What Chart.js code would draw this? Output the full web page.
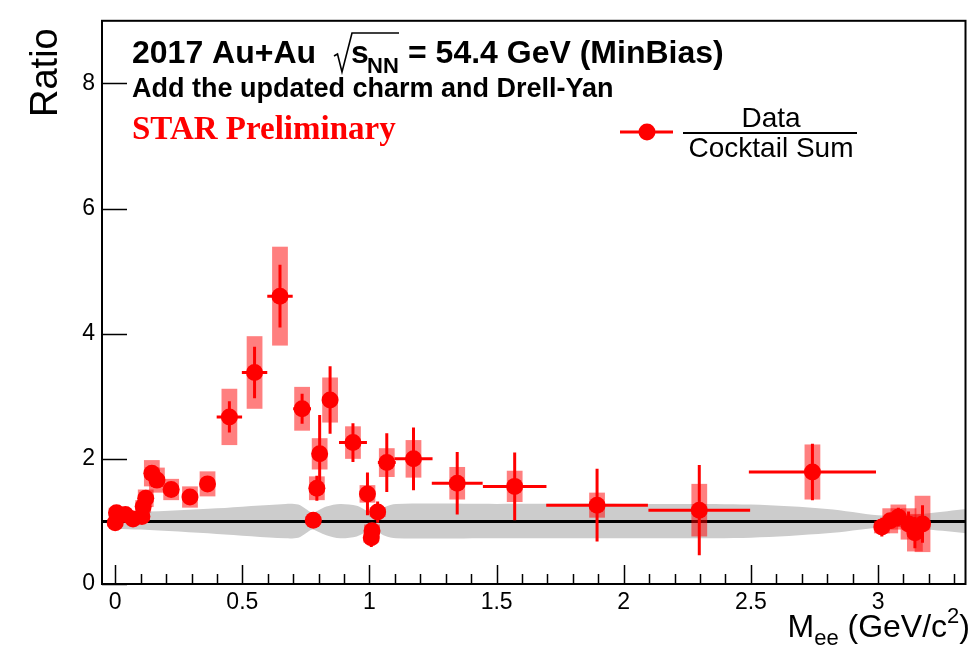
<!DOCTYPE html>
<html>
<head>
<meta charset="utf-8">
<title>Data / Cocktail ratio</title>
<script src="https://cdn.jsdelivr.net/npm/chart.js@4.4.0/dist/chart.umd.min.js"></script>
<style>
  html, body { margin: 0; padding: 0; background: #fff; }
  #wrap { width: 974px; height: 646px; }
</style>
</head>
<body>
<div id="wrap"><canvas id="ratioChart" width="974" height="646"></canvas></div>
<script>
// Dielectron mass (GeV/c^2) and Data / Cocktail ratio
const massValues    = [0.0, 0.005, 0.04, 0.07, 0.105, 0.11, 0.12, 0.144, 0.164, 0.22, 0.294, 0.363,
                       0.449, 0.548, 0.648, 0.735, 0.779, 0.793, 0.804, 0.845, 0.935, 0.992, 1.01, 1.007,
                       1.032, 1.068, 1.173, 1.345, 1.571, 1.895, 2.297, 2.742, 3.015, 3.048, 3.08, 3.12,
                       3.145, 3.175];
const ratioValues   = [0.98, 1.14, 1.11, 1.04, 1.08, 1.24, 1.37, 1.77, 1.66, 1.51, 1.39, 1.60,
                       2.67, 3.38, 4.60, 2.80, 1.02, 1.53, 2.08, 2.94, 2.26, 1.44, 0.85, 0.74,
                       1.15, 1.94, 2.00, 1.61, 1.56, 1.26, 1.18, 1.79, 0.91, 1.01, 1.07, 0.96,
                       0.82, 0.96];
const massHalfWidth = [0.005, 0.005, 0.01, 0.01, 0.005, 0.005, 0.01, 0.012, 0.012, 0.03, 0.025, 0.025,
                       0.05, 0.05, 0.05, 0.035, 0.01, 0.01, 0.01, 0.02, 0.055, 0.005, 0.005, 0.005,
                       0.005, 0.035, 0.075, 0.1, 0.125, 0.2, 0.2, 0.25, 0.01, 0.01, 0.01, 0.01,
                       0.01, 0.01];
const statErrors    = [0.03, 0.03, 0.03, 0.04, 0.04, 0.05, 0.06, 0.08, 0.08, 0.08, 0.08, 0.09,
                       0.25, 0.41, 0.50, 0.24, 0.04, 0.20, 0.62, 0.54, 0.31, 0.34, 0.08, 0.15,
                       0.17, 0.47, 0.50, 0.50, 0.54, 0.58, 0.72, 0.45, 0.15, 0.12, 0.15, 0.20,
                       0.25, 0.30];
const sysErrors     = [0.06, 0.08, 0.07, 0.07, 0.08, 0.10, 0.14, 0.21, 0.20, 0.17, 0.17, 0.20,
                       0.45, 0.58, 0.79, 0.35, 0.06, 0.19, 0.25, 0.36, 0.26, 0.14, 0.10, 0.08,
                       0.08, 0.23, 0.30, 0.26, 0.25, 0.20, 0.42, 0.44, 0.10, 0.20, 0.20, 0.25,
                       0.30, 0.45];

// cocktail uncertainty band around unity
const bandMass  = [0, 0.1, 0.4, 0.67, 0.72, 0.75, 0.775, 0.8, 0.83, 0.885, 0.95, 0.985, 1.005, 1.03, 1.06, 1.105,
                   1.5, 2.0, 2.5, 2.8, 3.0, 3.1, 3.2, 3.35];
const bandUpper = [1.13, 1.15, 1.21, 1.28, 1.27, 1.2, 1.14, 1.18, 1.24, 1.28, 1.25, 1.18, 1.13, 1.16, 1.23, 1.28,
                   1.28, 1.28, 1.27, 1.2, 1.1, 1.09, 1.13, 1.2];
const bandLower = [0.88, 0.87, 0.8, 0.73, 0.74, 0.81, 0.87, 0.83, 0.78, 0.73, 0.76, 0.83, 0.87, 0.84, 0.77, 0.73,
                   0.73, 0.73, 0.74, 0.81, 0.9, 0.91, 0.87, 0.81];

// axes
const xRange = [-0.052, 3.344];
const yRange = [0, 9];
const xTickValues = [0, 0.5, 1, 1.5, 2, 2.5, 3];
const xTickLabels = ["0", "0.5", "1", "1.5", "2", "2.5", "3"];
const yTickValues = [0, 2, 4, 6, 8];
const yTickLabels = ["0", "2", "4", "6", "8"];

const SANS = '"Liberation Sans", Arial, Helvetica, sans-serif';
const SERIF = '"Liberation Serif", "Times New Roman", serif';
const RED = "#ff0000";
const sysHalfWidth = 0.031;

// ROOT-like decorations: sys boxes, error bars, frame, inner ticks, texts
const rootStyle = {
    id: "rootStyle",
    afterDatasetDraw(chart, args) {
        if (args.index !== 1) return; // right after the unity line, below the markers
        const ctx = chart.ctx;
        const xs = chart.scales.x, ys = chart.scales.y;
        const area = chart.chartArea;
        ctx.save();
        ctx.beginPath();
        ctx.rect(area.left, area.top, area.right - area.left, area.bottom - area.top);
        ctx.clip();
        // systematic boxes
        ctx.fillStyle = "rgba(255, 0, 0, 0.5)";
        massValues.forEach((m, i) => {
            const x0 = xs.getPixelForValue(m - sysHalfWidth);
            const x1 = xs.getPixelForValue(m + sysHalfWidth);
            const y0 = ys.getPixelForValue(ratioValues[i] + sysErrors[i]);
            const y1 = ys.getPixelForValue(ratioValues[i] - sysErrors[i]);
            ctx.fillRect(x0, y0, x1 - x0, y1 - y0);
        });
        // statistical error bars + bin widths
        ctx.strokeStyle = RED;
        ctx.lineWidth = 3;
        massValues.forEach((m, i) => {
            const xc = xs.getPixelForValue(m);
            const yc = ys.getPixelForValue(ratioValues[i]);
            ctx.beginPath();
            ctx.moveTo(xc, ys.getPixelForValue(ratioValues[i] + statErrors[i]));
            ctx.lineTo(xc, ys.getPixelForValue(ratioValues[i] - statErrors[i]));
            ctx.moveTo(xs.getPixelForValue(m - massHalfWidth[i]), yc);
            ctx.lineTo(xs.getPixelForValue(m + massHalfWidth[i]), yc);
            ctx.stroke();
        });
        ctx.restore();
    },
    afterDraw(chart) {
        const ctx = chart.ctx;
        const xs = chart.scales.x, ys = chart.scales.y;
        const a = chart.chartArea;
        ctx.save();
        ctx.strokeStyle = "#000";
        ctx.lineWidth = 2;
        ctx.strokeRect(a.left, a.top, a.right - a.left, a.bottom - a.top);

        // inner ticks
        ctx.lineWidth = 1.5;
        ctx.beginPath();
        yTickValues.forEach(v => {
            const y = Math.round(ys.getPixelForValue(v)) + 0.5;
            ctx.moveTo(a.left, y);
            ctx.lineTo(a.left + 25, y);
        });
        for (let k = 0; k <= 33; k++) {
            const v = k / 10;
            const x = Math.round(xs.getPixelForValue(v)) + 0.5;
            const len = (k % 5 === 0) ? 19 : 10;
            ctx.moveTo(x, a.bottom);
            ctx.lineTo(x, a.bottom - len);
        }
        ctx.stroke();

        // axis titles
        ctx.fillStyle = "#000";
        ctx.textBaseline = "alphabetic";
        ctx.save();
        ctx.translate(57, 117);
        ctx.rotate(-Math.PI / 2);
        ctx.font = "38px " + SANS;
        ctx.textAlign = "left";
        ctx.fillText("Ratio", 0, 0);
        ctx.restore();

        // x title: M_ee (GeV/c^2), right aligned at the frame edge
        const big = "32px " + SANS, small = "22px " + SANS;
        const parts = [["M", big, 0], ["ee", small, 8], [" (GeV/c", big, 0], ["2", small, -14], [")", big, 0]];
        let total = 0;
        parts.forEach(p => { ctx.font = p[1]; total += ctx.measureText(p[0]).width; });
        let px = 970 - total;
        parts.forEach(p => {
            ctx.font = p[1];
            ctx.fillText(p[0], px, 637 + p[2]);
            px += ctx.measureText(p[0]).width;
        });

        // header
        ctx.textAlign = "left";
        ctx.font = "bold 32px " + SANS;
        ctx.fillText("2017 Au+Au", 132, 63);
        ctx.lineWidth = 1.6;
        ctx.beginPath();
        ctx.moveTo(334, 56);
        ctx.lineTo(337.5, 54);
        ctx.lineTo(342, 72);
        ctx.lineTo(352, 33);
        ctx.lineTo(399, 33);
        ctx.stroke();
        ctx.fillText("s", 351, 63);
        ctx.font = "bold 22px " + SANS;
        ctx.fillText("NN", 367, 73);
        ctx.font = "bold 32px " + SANS;
        ctx.fillText("= 54.4 GeV (MinBias)", 408, 63);
        ctx.font = "bold 27px " + SANS;
        ctx.fillText("Add the updated charm and Drell-Yan", 132, 97);
        ctx.fillStyle = RED;
        ctx.font = "bold 33px " + SERIF;
        ctx.fillText("STAR Preliminary", 132, 139);

        // legend
        ctx.strokeStyle = RED;
        ctx.lineWidth = 3;
        ctx.beginPath();
        ctx.moveTo(620, 132);
        ctx.lineTo(673, 132);
        ctx.stroke();
        ctx.beginPath();
        ctx.arc(647, 132, 8.5, 0, Math.PI * 2);
        ctx.fill();
        ctx.fillStyle = "#000";
        ctx.strokeStyle = "#000";
        ctx.lineWidth = 2;
        ctx.beginPath();
        ctx.moveTo(683, 133);
        ctx.lineTo(857, 133);
        ctx.stroke();
        ctx.textAlign = "center";
        ctx.font = "28px " + SANS;
        ctx.fillText("Data", 771, 127);
        ctx.fillText("Cocktail Sum", 771, 157);
        ctx.restore();
    }
};

const pointData = massValues.map((m, i) => ({ x: m, y: ratioValues[i] }));
const upperData = bandMass.map((m, i) => ({ x: m, y: bandUpper[i] }));
const lowerData = bandMass.map((m, i) => ({ x: m, y: bandLower[i] }));

new Chart(document.getElementById("ratioChart"), {
    type: "line",
    data: {
        datasets: [
            {
                label: "Data / Cocktail Sum",
                data: pointData,
                showLine: false,
                pointRadius: 8.5,
                pointBorderWidth: 0,
                pointBackgroundColor: RED,
                pointBorderColor: RED
            },
            {
                label: "unity",
                data: [{ x: xRange[0], y: 1 }, { x: xRange[1], y: 1 }],
                borderColor: "#000",
                borderWidth: 3,
                pointRadius: 0,
                fill: false
            },
            {
                label: "band low",
                data: lowerData,
                borderWidth: 0,
                borderColor: "rgba(0,0,0,0)",
                pointRadius: 0,
                tension: 0.3,
                fill: false
            },
            {
                label: "band high",
                data: upperData,
                borderWidth: 0,
                borderColor: "rgba(0,0,0,0)",
                backgroundColor: "#cccccc",
                pointRadius: 0,
                tension: 0.3,
                fill: "-1"
            }
        ]
    },
    options: {
        responsive: false,
        animation: false,
        events: [],
        layout: { padding: { left: 0, right: 3, top: 13, bottom: 0 } },
        scales: {
            x: {
                type: "linear",
                min: xRange[0],
                max: xRange[1],
                grid: { display: false, drawTicks: false },
                border: { display: false },
                afterBuildTicks: scale => { scale.ticks = xTickValues.map(v => ({ value: v })); },
                afterFit: scale => { scale.height = 62; },
                ticks: {
                    padding: 5,
                    color: "#000",
                    font: { family: SANS, size: 23 },
                    maxRotation: 0,
                    callback: (value, index) => xTickLabels[index]
                }
            },
            y: {
                min: yRange[0],
                max: yRange[1],
                grid: { display: false, drawTicks: false },
                border: { display: false },
                afterBuildTicks: scale => { scale.ticks = yTickValues.map(v => ({ value: v })); },
                afterFit: scale => { scale.width = 102; },
                ticks: {
                    padding: 7,
                    color: "#000",
                    font: { family: SANS, size: 23 },
                    callback: (value, index) => yTickLabels[index]
                }
            }
        },
        plugins: {
            legend: { display: false },
            tooltip: { enabled: false }
        }
    },
    plugins: [rootStyle]
});
</script>
</body>
</html>
